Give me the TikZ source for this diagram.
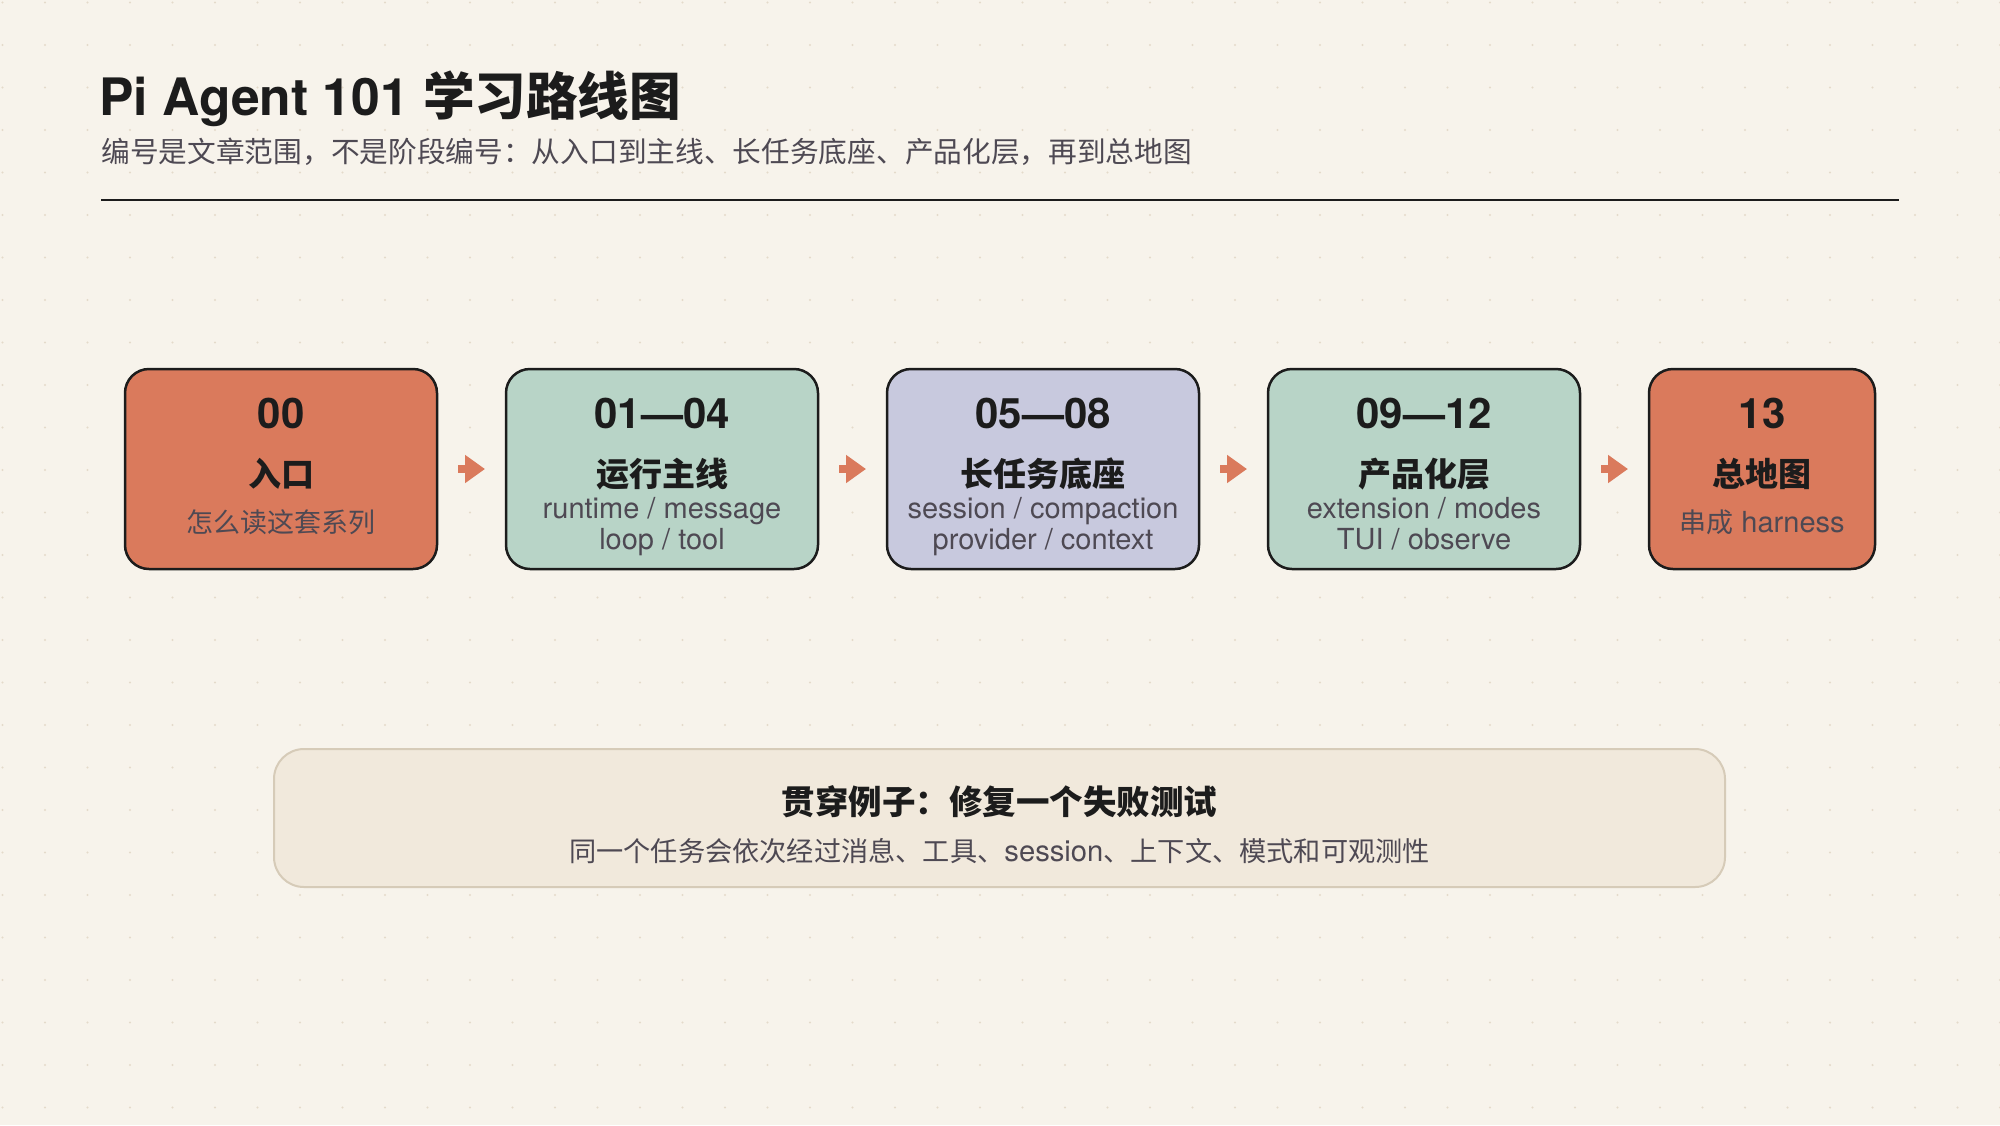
\documentclass[tikz,border=0pt]{standalone}
\usepackage{fontspec}
\setmainfont{TeX Gyre Heros}
\newfontfamily\cjk{Noto Sans CJK SC}
\usepackage{tikz}
\usetikzlibrary{arrows.meta}
\usetikzlibrary{positioning}

\definecolor{paper}{HTML}{F7F3EB}
\definecolor{dotc}{HTML}{E4DACA}
\definecolor{ink}{HTML}{1C1C1C}
\definecolor{muted}{HTML}{4E4953}
\definecolor{coral}{HTML}{DA7A5C}
\definecolor{sage}{HTML}{B8D4C7}
\definecolor{lilac}{HTML}{C8C9DE}
\definecolor{sand}{HTML}{F1E9DC}
\definecolor{sandline}{HTML}{D6CBB8}

\tikzset{
  stage/.style={draw=ink, line width=1.25pt, rounded corners=12pt, minimum width=156pt, minimum height=100pt, inner sep=0pt, outer sep=0pt},
  num/.style={font=\bfseries\fontsize{21pt}{25pt}\selectfont, text=ink, inner sep=0pt},
  stagetitle/.style={font=\cjk\bfseries\fontsize{16.5pt}{20pt}\selectfont, text=ink, inner sep=0pt},
  cjksub/.style={font=\cjk\fontsize{13.5pt}{16pt}\selectfont, text=muted, inner sep=0pt},
  latsub/.style={font=\fontsize{14.5pt}{17pt}\selectfont, text=muted, inner sep=0pt, anchor=base},
  flow/.style={draw=coral, line width=4pt, -{Triangle[length=10pt,width=13.5pt]}, shorten <=10.5pt, shorten >=10.5pt}
}

\begin{document}
\begin{tikzpicture}[x=0.5pt, y=-0.5pt]
    \useasboundingbox (0,0) rectangle (2000,1125);
    \fill[paper] (0,0) rectangle (2000,1125);
    \foreach \i in {0,...,47} {
        \foreach \j in {0,...,26} {
            \fill[dotc] (2.5+42.5*\i, 2.5+42.5*\j) circle (0.6pt);
        }
    }

    % heading
    \node[anchor=base west, inner sep=0pt, text=ink, font=\bfseries\fontsize{25.8pt}{30pt}\selectfont] (title) at (99,115) {Pi Agent 101 {\cjk 学习路线图}};
    \node[anchor=west, inner sep=0pt, text=muted, font=\cjk\fontsize{14.35pt}{17pt}\selectfont] (subtitle) at (101,152) {编号是文章范围，不是阶段编号：从入口到主线、长任务底座、产品化层，再到总地图};
    \draw[ink, line width=1.35pt] (101,200) -- (1899,200);

    % stages
    \node[stage, fill=coral] (b1) at (281,469) {};
    \node[stage, fill=sage, right=34.5pt of b1] (b2) {};
    \node[stage, fill=lilac, right=34.5pt of b2] (b3) {};
    \node[stage, fill=sage, right=34.5pt of b3] (b4) {};
    \node[stage, fill=coral, minimum width=113pt, right=34.5pt of b4] (b5) {};

    \node[num, yshift=28pt] (b1num) at (b1.center) {00};
    \node[stagetitle, yshift=-2.5pt] (b1title) at (b1.center) {入口};
    \node[cjksub, yshift=-26.5pt] (b1sub) at (b1.center) {怎么读这套系列};

    \node[num, yshift=28pt] (b2num) at (b2.center) {01—04};
    \node[stagetitle, yshift=-2.5pt] (b2title) at (b2.center) {运行主线};
    \node[latsub, yshift=-24.5pt] (b2sub) at (b2.center) {runtime / message};
    \node[latsub, yshift=-40pt] (b2sub2) at (b2.center) {loop / tool};

    \node[num, yshift=28pt] (b3num) at (b3.center) {05—08};
    \node[stagetitle, yshift=-2.5pt] (b3title) at (b3.center) {长任务底座};
    \node[latsub, yshift=-24.5pt] (b3sub) at (b3.center) {session / compaction};
    \node[latsub, yshift=-40pt] (b3sub2) at (b3.center) {provider / context};

    \node[num, yshift=28pt] (b4num) at (b4.center) {09—12};
    \node[stagetitle, yshift=-2.5pt] (b4title) at (b4.center) {产品化层};
    \node[latsub, yshift=-24.5pt] (b4sub) at (b4.center) {extension / modes};
    \node[latsub, yshift=-40pt] (b4sub2) at (b4.center) {TUI / observe};

    \node[num, yshift=28pt] (b5num) at (b5.center) {13};
    \node[stagetitle, yshift=-2.5pt] (b5title) at (b5.center) {总地图};
    \node[latsub, anchor=center, yshift=-26.5pt] (b5sub) at (b5.center) {{\cjk\fontsize{13.5pt}{16pt}\selectfont 串成} harness};

    \draw[flow] (b1) -- (b2);
    \draw[flow] (b2) -- (b3);
    \draw[flow] (b3) -- (b4);
    \draw[flow] (b4) -- (b5);

    % running example
    \node[draw=sandline, fill=sand, line width=1pt, rounded corners=15pt, minimum width=725.5pt, minimum height=69pt] (ex) at (999.5,818) {};
    \node[font=\cjk\bfseries\fontsize{16.75pt}{20pt}\selectfont, text=ink, inner sep=0pt, yshift=8pt] (extitle) at (ex.center) {贯穿例子：修复一个失败测试};
    \node[font=\cjk\fontsize{13.6pt}{17pt}\selectfont, text=muted, inner sep=0pt, yshift=-16.5pt] (exsub) at (ex.center) {同一个任务会依次经过消息、工具、{\rmfamily\fontsize{14.6pt}{17pt}\selectfont session}、上下文、模式和可观测性};
\end{tikzpicture}
\end{document}
